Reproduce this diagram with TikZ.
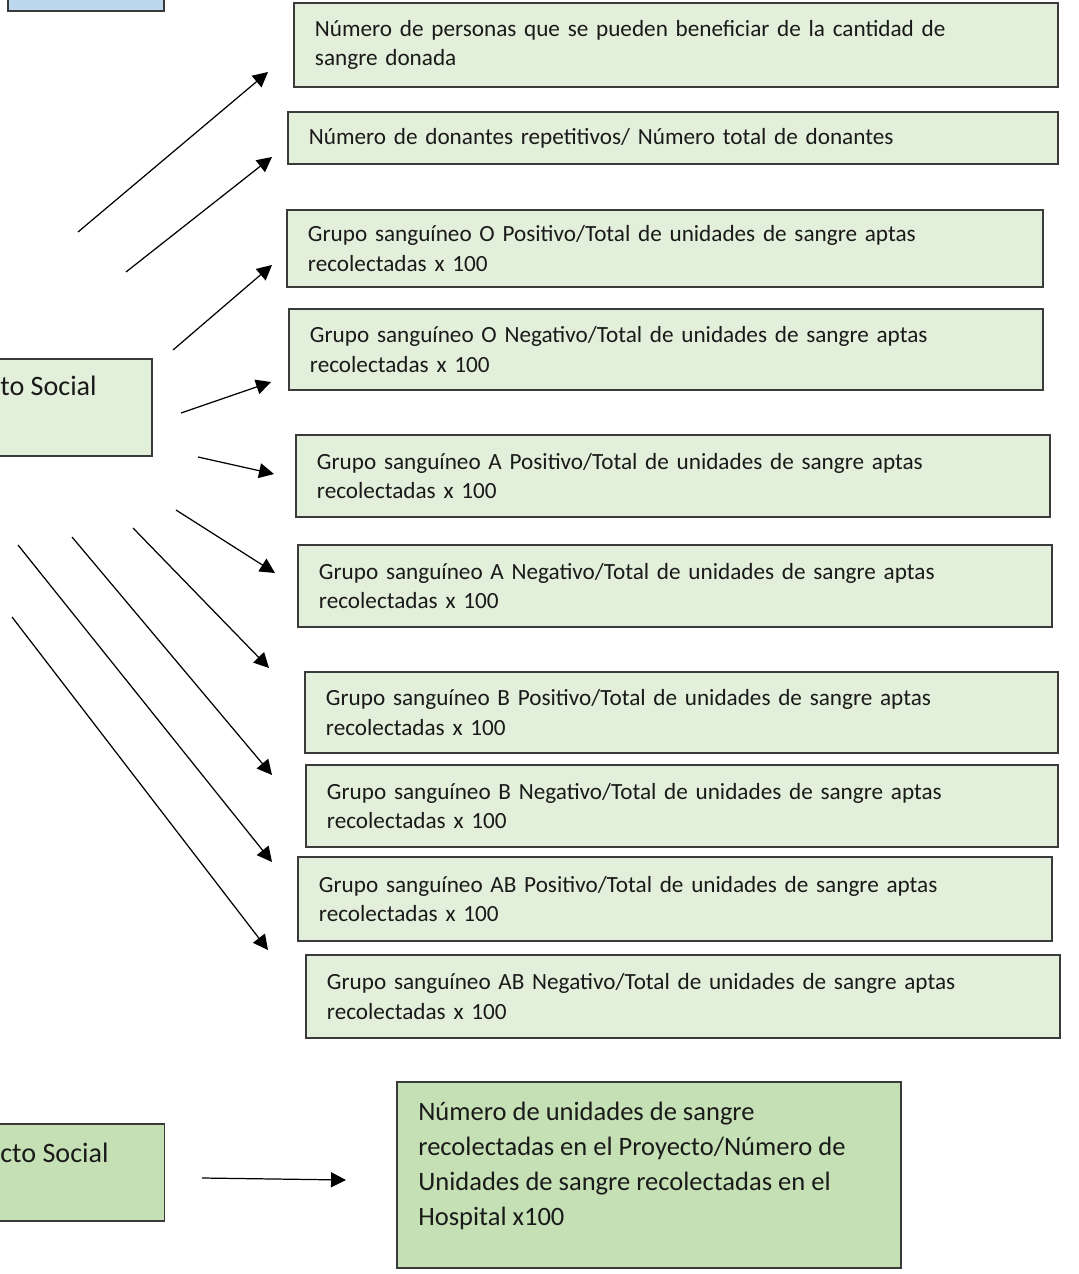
\documentclass[tikz,border=0pt]{standalone}
\usepackage{fontspec}
\setmainfont{Carlito}
\usetikzlibrary{arrows.meta, positioning}

\definecolor{indgreen}{HTML}{E2EFDA}
\definecolor{resgreen}{HTML}{C5E0B4}
\definecolor{catblue}{HTML}{BDD7EE}
\definecolor{edgegray}{HTML}{3A3A3A}
\definecolor{inkgray}{HTML}{1A1A1A}

\begin{document}
\begin{tikzpicture}
	[x=0.02cm, y=-0.02cm,%
	ind/.style   ={rectangle,	draw=edgegray,	fill=indgreen,	line width=0.8pt,	inner xsep=0.42cm,	inner ysep=2pt,	align=left,	text=inkgray,	font=\fontsize{13.2}{17}\selectfont},%
	res/.style   ={rectangle,	draw=edgegray,	fill=resgreen,	line width=0.8pt,	inner sep=0pt},%
	cat/.style   ={rectangle,	draw=edgegray,	fill=catblue,	line width=0.8pt,	inner sep=0pt},%
	big/.style   ={inner sep=0pt,	align=left,	text=inkgray,	font=\fontsize{15.1}{19.9}\selectfont},%
	arr/.style   ={line width=0.7pt,	-{Triangle[length=8.5pt,width=8.5pt]}},%
	]

	\useasboundingbox (0,0) rectangle (1078,1274);
	\clip (0,0) rectangle (1078,1274);

	% left boxes (cut by the page)
	\node (cat) at (86,-15) [cat, minimum width=3.12cm, minimum height=1.04cm] {};
	\node (imp) at (26,407.5) [res, fill=indgreen, minimum width=5.04cm, minimum height=1.94cm] {};
	\node (implbl) at (0,395) [big, anchor=base west, font=\fontsize{16}{19.9}\selectfont] {to Social};
	\node (pro) at (32,1172.5) [res, minimum width=5.3cm, minimum height=1.94cm] {};
	\node (prolbl) at (0,1162) [big, anchor=base west, font=\fontsize{16}{19.9}\selectfont] {cto Social};

	% indicator boxes
	\foreach \n/\xa/\ya/\xb/\yb/\txt in {%
			1/294/3/1058/87/{Número de personas que se pueden beneficiar de la cantidad de\\sangre donada},%
			2/288/112/1058/164/{Número de donantes repetitivos/ Número total de donantes},%
			3/287/210/1043/287/{Grupo sanguíneo O Positivo/Total de unidades de sangre aptas\\recolectadas x 100},%
			4/289/309/1043/390/{Grupo sanguíneo O Negativo/Total de unidades de sangre aptas\\recolectadas x 100},%
			5/296/435/1050/517/{Grupo sanguíneo A Positivo/Total de unidades de sangre aptas\\recolectadas x 100},%
			6/298/545/1052/627/{Grupo sanguíneo A Negativo/Total de unidades de sangre aptas\\recolectadas x 100},%
			7/305/672/1058/753/{Grupo sanguíneo B Positivo/Total de unidades de sangre aptas\\recolectadas x 100},%
			8/306/765/1058/847/{Grupo sanguíneo B Negativo/Total de unidades de sangre aptas\\recolectadas x 100},%
			9/298/857/1052/941/{Grupo sanguíneo AB Positivo/Total de unidades de sangre aptas\\recolectadas x 100},%
			10/306/955/1060/1038/{Grupo sanguíneo AB Negativo/Total de unidades de sangre aptas\\recolectadas x 100}%
			}
	{
		\pgfmathsetmacro\w{(\xb-\xa)*0.02}
		\pgfmathsetmacro\h{(\yb-\ya)*0.02}
		\pgfmathsetmacro\tw{\w-0.84}
		\node (ind\n) at ({(\xa+\xb)/2},{(\ya+\yb)/2}) [ind, text width=\tw cm, minimum height=\h cm] {\txt};
	}

	% result box
	\node (res) at (649,1175) [res, minimum width=10.08cm, minimum height=3.72cm] {};
	\node (restxt) at (418,1102) [big, anchor=north west] {Número de unidades de sangre\\recolectadas en el Proyecto/Número de\\Unidades de sangre recolectadas en el\\Hospital x100};

	% arrows
	\foreach \n/\xa/\ya/\xb/\yb in {	1/78/232/268/72, 2/126/272/272/157, 3/173/350/272/265, %
												4/181/413/271/382, 5/198/457/274/474, 6/176/510/275/573, %
												7/133/528/269/668, 8/72/537/272/775, 9/18/545/272/862, %
												10/12/617/268/950, 11/202/1178/346/1180%
												}
	{
		\coordinate (tail\n) at (\xa,\ya);
		\coordinate (tip\n) at (\xb,\yb);
		\draw [arr] (tail\n) -- (tip\n);
	}

\end{tikzpicture}
\end{document}
